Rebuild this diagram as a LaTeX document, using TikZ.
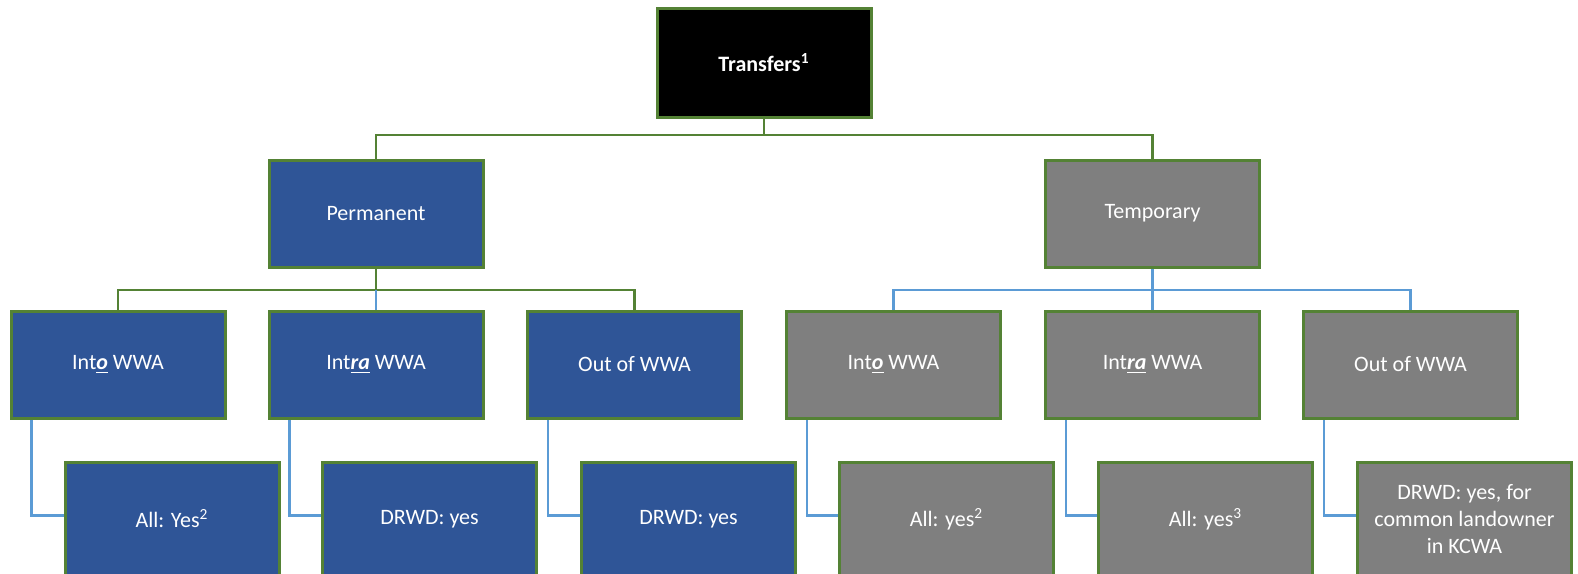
\documentclass[tikz,border=0pt]{standalone}
\usepackage{fontspec}
\setmainfont{Carlito}
\usepackage{xcolor}
\usepackage{tikz}
\usetikzlibrary{positioning, backgrounds}

\definecolor{permblue}{HTML}{2F5597}
\definecolor{tempgray}{HTML}{7F7F7F}
\definecolor{edgegreen}{HTML}{548235}
\definecolor{linkblue}{HTML}{5B9BD5}

\newcommand{\ul}[1]{\underline{\textbf{\textit{#1}}}}

\begin{document}
\begin{tikzpicture}[x=0.5pt, y=-0.5pt,
    box/.style={draw=edgegreen, line width=1.5pt, minimum width=107pt, minimum height=53.5pt,
        text=white, font=\fontsize{11}{13.3}\selectfont, align=center, inner sep=2pt},
    permbox/.style={box, fill=permblue},
    tempbox/.style={box, fill=tempgray},
    lowbox/.style={minimum height=57pt},
    greenlink/.style={draw=edgegreen, line width=1.3pt},
    bluelink/.style={draw=linkblue, line width=1.3pt}]
\useasboundingbox (0,0) rectangle (1578,573);

% Top
\node[box, fill=black, minimum height=54.5pt] (top) at (764,62.5) {\textbf{Transfers\textsuperscript{1}}};

% Second level
\node[permbox] (perm) at (376,213.5) {Permanent};
\node[tempbox] (temp) at (1152.5,213.5) {Temporary};

% Third level
\node[permbox] (pinto) at (118,364.5) {Int\ul{o} WWA};
\node[permbox] (pintra) at (376,364.5) {Int\ul{ra} WWA};
\node[permbox] (pout) at (634.5,364.5) {Out of WWA};
\node[tempbox] (tinto) at (893.5,364.5) {Int\ul{o} WWA};
\node[tempbox] (tintra) at (1152.5,364.5) {Int\ul{ra} WWA};
\node[tempbox] (tout) at (1410.5,364.5) {Out of WWA};

% Fourth level (runs past the bottom edge)
\node[permbox, lowbox] (pintoans) at (172,519) {All: Yes\textsuperscript{2}};
\node[permbox, lowbox] (pintraans) at (429.5,519) {DRWD: yes};
\node[permbox, lowbox] (poutans) at (688.5,519) {DRWD: yes};
\node[tempbox, lowbox] (tintoans) at (946.5,519) {All: yes\textsuperscript{2}};
\node[tempbox, lowbox] (tintraans) at (1205.5,519) {All: yes\textsuperscript{3}};
\node[tempbox, lowbox] (toutans) at (1464.5,519) {DRWD: yes, for\\common landowner\\in KCWA};

% Connectors
\coordinate (topbus) at (764,135);
\coordinate (pbus) at (376,290);
\coordinate (tbus) at (1152.5,290);

\begin{scope}[on background layer]
\draw[greenlink] (top.south) -- (topbus);
\draw[greenlink] (perm.north) |- (topbus) -| (temp.north);

\draw[greenlink] (perm.south) -- (pbus);
\draw[greenlink] (pinto.north) |- (pbus) -| (pout.north);
\draw[bluelink] (pbus) -- (pintra.north);

\draw[bluelink] (temp.south) -- (tbus) -- (tintra.north);
\draw[bluelink] (tinto.north) |- (tbus) -| (tout.north);

\foreach \from/\to in {pinto/pintoans, pintra/pintraans, pout/poutans,
    tinto/tintoans, tintra/tintraans, tout/toutans} {
  \draw[bluelink] (\from.south west) ++(22,0) |- ([yshift=1.75pt]\to.west);
}
\end{scope}

\end{tikzpicture}
\end{document}
